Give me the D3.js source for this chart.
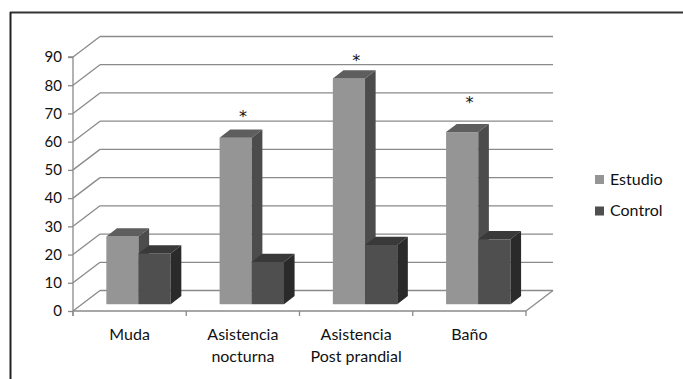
<!DOCTYPE html>
<html>
<head>
<meta charset="utf-8">
<script src="https://cdn.jsdelivr.net/npm/d3@7"></script>
<style>
  html, body { margin: 0; padding: 0; background: #fff; }
  svg { display: block; font-family: Lato, "Open Sans", sans-serif; }
</style>
</head>
<body>
<svg id="chart" width="683" height="379"></svg>
<script>
// Categories and series
const categories = ["Muda", "Asistencia\nnocturna", "Asistencia\nPost prandial", "Baño"];
const seriesNames = ["Estudio", "Control"];
const estudio = [24, 59, 80, 61];
const control = [18, 15, 21, 23];
const yTicks = [0, 10, 20, 30, 40, 50, 60, 70, 80, 90];
// level (in axis units) of the significance marker above each group; null = none
const sigLevel = [null, 70, 90, 75];

const series = [
  { name: seriesNames[0], values: estudio, front: "#959595", top: "#5e5e5e", side: "#4c4c4c" },
  { name: seriesNames[1], values: control, front: "#4f4f4f", top: "#393939", side: "#2a2a2a" }
];

const svg = d3.select("#chart");
const gridColor = "#8a8a8a";

// Outer frame (top and left edges)
svg.append("line").attr("x1", 10).attr("x2", 683).attr("y1", 12.5).attr("y2", 12.5)
  .attr("stroke", "#333").attr("stroke-width", 2);
svg.append("line").attr("x1", 10.5).attr("x2", 10.5).attr("y1", 12).attr("y2", 379)
  .attr("stroke", "#222").attr("stroke-width", 2);

// Plot geometry: front floor plane + a depth offset for the back wall
const x0 = 73, x1 = 526;
const depth = { dx: 27, dy: -20.5 };
const y = d3.scaleLinear().domain([0, 90]).range([311, 57]);
const x = d3.scaleBand().domain(categories).range([x0, x1]).paddingInner(0).paddingOuter(0);

const g = svg.append("g");

// Back wall gridlines and left wall diagonals
yTicks.forEach(t => {
  const yf = y(t), yb = yf + depth.dy;
  g.append("line").attr("x1", x0).attr("y1", yf).attr("x2", x0 + depth.dx).attr("y2", yb)
    .attr("stroke", gridColor).attr("stroke-width", 1.3);
  g.append("line").attr("x1", x0 + depth.dx).attr("y1", yb).attr("x2", x1 + depth.dx).attr("y2", yb)
    .attr("stroke", gridColor).attr("stroke-width", 1.3);
});

// Floor front edge and right edge
g.append("line").attr("x1", x0).attr("y1", y(0)).attr("x2", x1).attr("y2", y(0))
  .attr("stroke", gridColor).attr("stroke-width", 1.3);
g.append("line").attr("x1", x1).attr("y1", y(0)).attr("x2", x1 + depth.dx).attr("y2", y(0) + depth.dy)
  .attr("stroke", gridColor).attr("stroke-width", 1.3);

// Value axis
const yAxis = d3.axisLeft(y).tickValues(yTicks).tickSize(5).tickPadding(6);
const ya = svg.append("g").attr("transform", `translate(${x0},0)`).call(yAxis);
ya.select(".domain").attr("stroke", gridColor).attr("stroke-width", 1.3)
  .attr("d", `M-5,${y(90)}H0V${y(0) + 5}`);
ya.selectAll(".tick line").attr("stroke", gridColor).attr("stroke-width", 1.3);
ya.selectAll(".tick text").attr("font-size", 15).attr("fill", "#111").attr("font-family", "Lato, sans-serif");

// Category tick marks below the floor
const catTicks = categories.map(c => x(c) + x.bandwidth()).concat([x0]);
svg.append("g").selectAll("line").data(catTicks).join("line")
  .attr("x1", d => d).attr("x2", d => d).attr("y1", y(0)).attr("y2", y(0) + 5)
  .attr("stroke", gridColor).attr("stroke-width", 1.3);

// 3D bars
const barDepthStart = 0.33;              // fraction of depth where bar front face sits
const barDepth = { dx: 10.6, dy: -8.2 };
const bw = 32.2;
const offX = depth.dx * barDepthStart, offY = depth.dy * barDepthStart;
const bars = svg.append("g");

categories.forEach((c, i) => {
  const cx = x(c) + x.bandwidth() / 2 + offX;
  const groupLeft = cx - bw * series.length / 2;
  series.forEach((s, j) => {
    const v = s.values[i];
    const left = groupLeft + j * bw, right = left + bw;
    const base = y(0) + offY, top = y(v) + offY;
    const bg = bars.append("g");
    bg.append("rect").attr("x", left).attr("y", top).attr("width", bw).attr("height", base - top)
      .attr("fill", s.front);
    bg.append("path")
      .attr("d", `M${left},${top}L${left + barDepth.dx},${top + barDepth.dy}L${right + barDepth.dx},${top + barDepth.dy}L${right},${top}Z`)
      .attr("fill", s.top);
    bg.append("path")
      .attr("d", `M${right},${top}L${right + barDepth.dx},${top + barDepth.dy}L${right + barDepth.dx},${base + barDepth.dy}L${right},${base}Z`)
      .attr("fill", s.side);
  });
});

// Significance markers
svg.append("g").selectAll("text").data(categories.map((c, i) => ({ c, lvl: sigLevel[i] })).filter(d => d.lvl !== null))
  .join("text")
  .attr("x", d => x(d.c) + x.bandwidth() / 2)
  .attr("y", d => y(d.lvl) + 9)
  .attr("text-anchor", "middle").attr("font-size", 16).attr("fill", "#111")
  .attr("font-family", "'DejaVu Sans', sans-serif")
  .text("*");

// Category labels
const labels = svg.append("g").attr("font-size", 16).attr("fill", "#111");
categories.forEach(c => {
  const t = labels.append("text").attr("x", x(c) + x.bandwidth() / 2).attr("y", 340)
    .attr("text-anchor", "middle");
  c.split("\n").forEach((line, k) => {
    t.append("tspan").attr("x", x(c) + x.bandwidth() / 2).attr("dy", k === 0 ? 0 : 21.7).text(line);
  });
});

// Legend
const legend = svg.append("g");
series.forEach((s, j) => {
  const ly = 175 + j * 31.5;
  legend.append("rect").attr("x", 595).attr("y", ly).attr("width", 9).attr("height", 9).attr("fill", s.front);
  legend.append("text").attr("x", 610).attr("y", ly + 9.5).attr("font-size", 16).attr("fill", "#111").text(s.name);
});
</script>
</body>
</html>
